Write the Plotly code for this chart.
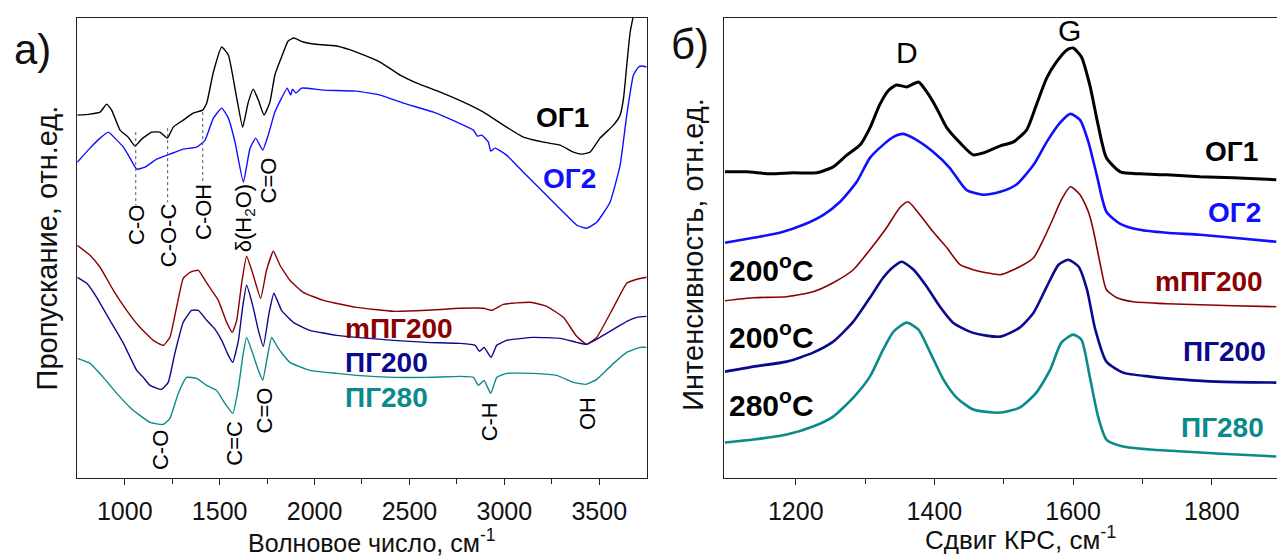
import plotly.graph_objects as go

# ---------- IR spectra (panel а) ----------
ir_og1_x = [750, 817, 870, 905, 931, 975, 1018, 1054, 1089, 1142, 1185, 1224, 1256, 1308, 1361,
            1411, 1432, 1467, 1511, 1546, 1590, 1621, 1651, 1677, 1704, 1734, 1765, 1791, 1826,
            1861, 1891, 1940, 1993, 2116, 2221, 2345, 2451, 2539, 2662, 2785, 2890, 2995, 3100,
            3206, 3294, 3364, 3408, 3452, 3504, 3575, 3610, 3628, 3645, 3663, 3680, 3700]
ir_og1_y = [365, 366, 368, 376, 370, 350, 343, 334, 341, 348, 348, 342, 353, 360, 367,
            370, 377, 408, 433, 425, 382, 353, 378, 391, 380, 365, 378, 405, 423,
            439, 442, 438, 436, 434, 428, 418, 405, 397, 388, 378, 368, 355, 343,
            338, 335, 328, 326, 328, 342, 355, 365, 382, 415, 448, 465, 500]

ir_og2_x = [750, 817, 870, 914, 958, 993, 1028, 1063, 1107, 1168, 1238, 1308, 1379, 1423, 1467,
            1511, 1546, 1581, 1625, 1660, 1690, 1727, 1756, 1791, 1826, 1856, 1874, 1884, 1902,
            1932, 2046, 2221, 2345, 2468, 2626, 2750, 2837, 2858, 2881, 2916, 2928, 2951, 3012,
            3100, 3206, 3311, 3382, 3434, 3487, 3557, 3610, 3645, 3680, 3707, 3724, 3750]
ir_og2_y = [318, 332, 342, 348, 340, 333, 322, 311, 313, 321, 326, 331, 333, 340, 362,
            372, 362, 338, 298, 332, 342, 330, 345, 368, 382, 392, 385, 391, 387,
            392, 390, 389, 385, 377, 368, 358, 350, 344, 345, 338, 329, 332, 325,
            308, 288, 268, 255, 252, 258, 278, 315, 365, 405, 413, 414, 413]

ir_mpg200_x = [750, 817, 870, 940, 1010, 1080, 1150, 1203, 1238, 1273, 1308, 1344, 1388, 1423,
               1458, 1493, 1537, 1567, 1590, 1616, 1642, 1674, 1716, 1747, 1783, 1818, 1870,
               1940, 2046, 2221, 2416, 2591, 2767, 2890, 2934, 2995, 3136, 3223, 3311, 3381,
               3434, 3487, 3575, 3645, 3698, 3750]
ir_mpg200_y = [235, 225, 213, 190, 170, 153, 140, 135, 143, 173, 202, 208, 210, 200,
               190, 180, 158, 148, 160, 197, 224, 207, 182, 210, 229, 215, 200,
               188, 180, 173, 169, 170, 172, 172, 170, 176, 178, 174, 163, 144,
               136, 143, 173, 197, 201, 203]

ir_pg200_x = [750, 800, 852, 922, 993, 1063, 1098, 1133, 1194, 1229, 1264, 1308, 1352, 1388,
              1432, 1476, 1511, 1546, 1569, 1599, 1621, 1642, 1674, 1704, 1730, 1760, 1786,
              1826, 1888, 1975, 2116, 2221, 2416, 2591, 2767, 2846, 2869, 2893, 2930, 2960,
              3013, 3153, 3294, 3381, 3434, 3504, 3575, 3645, 3698, 3750]
ir_pg200_y = [203, 197, 183, 160, 137, 110, 103, 95, 91, 98, 127, 158, 170, 170,
              160, 151, 140, 125, 118, 140, 173, 195, 175, 150, 134, 167, 187,
              170, 158, 150, 145, 143, 140, 138, 137, 135, 129, 133, 123, 135,
              140, 143, 142, 138, 136, 143, 151, 159, 163, 164]

ir_pg280_x = [750, 817, 887, 958, 1028, 1080, 1133, 1203, 1238, 1282, 1326, 1379, 1432, 1484,
              1528, 1569, 1599, 1621, 1642, 1674, 1704, 1727, 1751, 1774, 1809, 1870, 1975,
              2116, 2221, 2416, 2591, 2767, 2837, 2863, 2893, 2928, 2960, 3013, 3153, 3276,
              3364, 3430, 3487, 3575, 3645, 3715, 3750]
ir_pg280_y = [122, 117, 103, 87, 73, 65, 58, 56, 62, 87, 103, 102, 95, 90,
              77, 67, 93, 123, 143, 127, 110, 100, 123, 143, 132, 118, 110,
              107, 105, 103, 103, 104, 103, 95, 100, 87, 103, 107, 107, 105,
              98, 96, 101, 117, 128, 133, 133]

# ---------- Raman spectra (panel б) ----------
rm_og1_x = [1098, 1129, 1163, 1196, 1230, 1254, 1274, 1293, 1307, 1321, 1333, 1345, 1360, 1377,
            1389, 1403, 1418, 1437, 1456, 1471, 1495, 1514, 1533, 1547, 1562, 1576, 1591, 1600,
            1612, 1624, 1636, 1648, 1668, 1696, 1735, 1783, 1831, 1893]
rm_og1_y = [308, 308, 306, 307, 307, 313, 325, 335, 352, 375, 389, 395, 393, 398,
            388, 372, 352, 337, 325, 327, 334, 338, 350, 375, 402, 418, 430, 432,
            423, 395, 355, 322, 308, 306, 305, 303, 302, 300]

rm_og2_x = [1098, 1139, 1177, 1211, 1240, 1264, 1288, 1307, 1326, 1341, 1355, 1374, 1398, 1422,
            1446, 1471, 1495, 1518, 1543, 1562, 1581, 1596, 1610, 1622, 1634, 1648, 1668, 1696,
            1735, 1783, 1831, 1893]
rm_og2_y = [237, 242, 247, 255, 265, 278, 298, 322, 335, 343, 346, 340, 328, 312,
            290, 285, 288, 295, 315, 338, 357, 366, 360, 338, 305, 268, 256, 250,
            247, 245, 242, 238]

rm_mpg200_x = [1098, 1139, 1187, 1225, 1254, 1283, 1307, 1331, 1350, 1362, 1379, 1398, 1418, 1437,
               1456, 1475, 1495, 1523, 1543, 1557, 1569, 1583, 1596, 1610, 1622, 1629, 1639,
               1648, 1663, 1687, 1735, 1783, 1831, 1893]
rm_mpg200_y = [179, 182, 183, 188, 197, 210, 230, 252, 272, 278, 265, 248, 232, 215,
               210, 207, 205, 213, 222, 240, 258, 280, 293, 285, 268, 250, 216,
               190, 182, 178, 176, 175, 174, 173]

rm_pg200_x = [1098, 1139, 1187, 1225, 1254, 1283, 1307, 1326, 1341, 1353, 1370, 1389, 1408, 1427,
              1451, 1475, 1495, 1523, 1543, 1562, 1579, 1593, 1608, 1620, 1632, 1648, 1672, 1711,
              1759, 1807, 1893]
rm_pg200_y = [108, 113, 118, 127, 138, 158, 182, 202, 213, 218, 210, 193, 173, 157,
              148, 144, 143, 152, 167, 193, 215, 220, 213, 190, 150, 118, 107, 103,
              100, 98, 97]

rm_pg280_x = [1098, 1139, 1187, 1225, 1254, 1283, 1307, 1326, 1341, 1360, 1377, 1394, 1413, 1432,
              1456, 1485, 1495, 1523, 1547, 1567, 1583, 1600, 1612, 1624, 1636, 1648, 1672, 1711,
              1759, 1807, 1893]
rm_pg280_y = [37, 40, 45, 53, 63, 82, 103, 130, 148, 157, 150, 127, 100, 82,
              70, 67, 67, 72, 87, 110, 137, 145, 140, 103, 63, 40, 33, 30,
              28, 26, 23]

ir_ticks = [1000, 1500, 2000, 2500, 3000, 3500]
ir_minor = [1250, 1750, 2250, 2750, 3250]
rm_ticks = [1200, 1400, 1600, 1800]
rm_minor = [1300, 1500, 1700]

C_BLACK = "#000000"
C_BLUE = "#1010ff"
C_RED = "#8b0000"
C_NAVY = "#0a0a8c"
C_TEAL = "#0a8a8a"
FONT = "Liberation Sans, Arial, sans-serif"

fig = go.Figure()

ir_series = [
    (ir_og1_x, ir_og1_y, C_BLACK, "ОГ1"),
    (ir_og2_x, ir_og2_y, C_BLUE, "ОГ2"),
    (ir_mpg200_x, ir_mpg200_y, C_RED, "mПГ200"),
    (ir_pg200_x, ir_pg200_y, C_NAVY, "ПГ200"),
    (ir_pg280_x, ir_pg280_y, C_TEAL, "ПГ280"),
]
for x, y, c, name in ir_series:
    fig.add_trace(go.Scatter(x=x, y=y, mode="lines", name=name,
                             line=dict(color=c, width=1.4, shape="spline", smoothing=0.4),
                             xaxis="x", yaxis="y", showlegend=False))

# Raman traces: the noisier spectra are drawn with heavier strokes
rm_series = [
    (rm_og1_x, rm_og1_y, C_BLACK, "ОГ1", 3.0),
    (rm_og2_x, rm_og2_y, C_BLUE, "ОГ2", 2.6),
    (rm_mpg200_x, rm_mpg200_y, C_RED, "mПГ200", 1.6),
    (rm_pg200_x, rm_pg200_y, C_NAVY, "ПГ200", 2.6),
    (rm_pg280_x, rm_pg280_y, C_TEAL, "ПГ280", 2.6),
]
for x, y, c, name, w in rm_series:
    fig.add_trace(go.Scatter(x=x, y=y, mode="lines", name=name,
                             line=dict(color=c, width=w, shape="spline", smoothing=0.6),
                             xaxis="x2", yaxis="y2", showlegend=False))

# dotted guide lines for the oxygen groups
guides = [(1058, 348, 275), (1226, 352, 278), (1411, 368, 298)]
for gx, y0, y1 in guides:
    fig.add_trace(go.Scatter(x=[gx, gx], y=[y0, y1], mode="lines",
                             line=dict(color="#555555", width=1, dash="dot"),
                             xaxis="x", yaxis="y", showlegend=False, hoverinfo="skip"))

ann = []

def label(x, y, text, ref="", size=22, color="black", angle=0, bold=False, xanchor="center"):
    if bold:
        text = "<b>" + text + "</b>"
    ann.append(dict(x=x, y=y, xref="x" + ref, yref="y" + ref, text=text, showarrow=False,
                    textangle=angle, xanchor=xanchor, yanchor="middle",
                    font=dict(family=FONT, size=size, color=color)))

# band assignments, IR
label(1058, 255, "C-O", angle=-90)
label(1228, 245, "C-O-C", angle=-90)
label(1411, 268, "C-OH", angle=-90)
label(1634, 262, "δ(H<sub>2</sub>O)", angle=-90)
label(1756, 300, "C=O", angle=-90)
label(1189, 30, "C-O", angle=-90)
label(1577, 37, "C=C", angle=-90)
label(1734, 70, "C=O", angle=-90)
label(2924, 59, "C-H", angle=-90)
label(3439, 67, "OH", angle=-90)

# sample names, IR
label(3309, 363, "ОГ1", size=28, color=C_BLACK, bold=True)
label(3343, 302, "ОГ2", size=28, color=C_BLUE, bold=True)
label(2150, 152, "mПГ200", size=28, color=C_RED, bold=True, xanchor="left")
label(2150, 118, "ПГ200", size=28, color=C_NAVY, bold=True, xanchor="left")
label(2150, 83, "ПГ280", size=28, color=C_TEAL, bold=True, xanchor="left")

# Raman bands and samples
label(1361, 427, "D", ref="2", size=30)
label(1595, 449, "G", ref="2", size=30)
label(1828, 328, "ОГ1", ref="2", size=28, color=C_BLACK, bold=True)
label(1832, 267, "ОГ2", ref="2", size=28, color=C_BLUE, bold=True)
label(1796, 198, "mПГ200", ref="2", size=28, color=C_RED, bold=True)
label(1819, 128, "ПГ200", ref="2", size=28, color=C_NAVY, bold=True)
label(1816, 52, "ПГ280", ref="2", size=28, color=C_TEAL, bold=True)
label(1101, 212, "200<sup>o</sup>C", ref="2", size=30, bold=True, xanchor="left")
label(1101, 145, "200<sup>o</sup>C", ref="2", size=30, bold=True, xanchor="left")
label(1101, 77, "280<sup>o</sup>C", ref="2", size=30, bold=True, xanchor="left")

def paper_text(x, y, text, size, angle=0):
    ann.append(dict(x=x, y=y, xref="paper", yref="paper", text=text, showarrow=False,
                    textangle=angle, xanchor="center", yanchor="middle",
                    font=dict(family=FONT, size=size, color="#111111")))

paper_text(0.0255, 0.912, "а)", 42)
paper_text(0.540, 0.921, "б)", 42)
paper_text(0.2913, 0.033, "Волновое число, см<sup>-1</sup>", 25)
paper_text(0.7995, 0.037, "Сдвиг КРС, см<sup>-1</sup>", 26)
paper_text(0.037, 0.556, "Пропускание, отн.ед.", 29, angle=-90)
paper_text(0.543, 0.545, "Интенсивность, отн.ед.", 29, angle=-90)

axis_common = dict(showgrid=False, zeroline=False, linecolor="#222222", linewidth=1,
                   ticks="outside", ticklen=6, tickcolor="#222222",
                   tickfont=dict(family=FONT, size=25, color="#111111"))

fig.update_layout(
    width=1277, height=559,
    margin=dict(l=0, r=0, t=0, b=0),
    paper_bgcolor="white", plot_bgcolor="white",
    showlegend=False,
    xaxis=dict(domain=[0.06053, 0.50642], range=[750, 3750], tickvals=ir_ticks,
               showline=True, mirror=True, anchor="y",
               minor=dict(tickvals=ir_minor, ticks="outside", ticklen=5, tickcolor="#222222"),
               ticklabelstandoff=5, **axis_common),
    yaxis=dict(domain=[0.14526, 0.96834], range=[2.7, 462.3], showticklabels=False,
               ticks="", showline=True, mirror=True, showgrid=False, zeroline=False,
               linecolor="#222222", linewidth=1, anchor="x"),
    xaxis2=dict(domain=[0.56719, 1.0], range=[1097, 1894], tickvals=rm_ticks,
                showline=True, mirror=True, anchor="y2",
                minor=dict(tickvals=rm_minor, ticks="outside", ticklen=5, tickcolor="#222222"),
                ticklabelstandoff=5, **axis_common),
    yaxis2=dict(domain=[0.14526, 0.96834], range=[1.7, 462.3], showticklabels=False,
                ticks="", showline=True, mirror=False, showgrid=False, zeroline=False,
                linecolor="#222222", linewidth=1, anchor="x2"),
    annotations=ann,
)

fig.write_html("out.html")
